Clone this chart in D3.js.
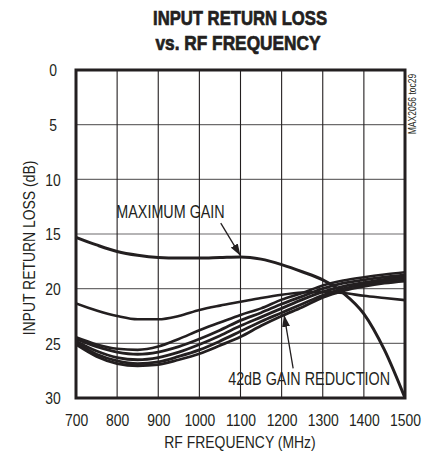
<!DOCTYPE html>
<html>
<head>
<meta charset="utf-8">
<script src="https://cdn.jsdelivr.net/npm/d3@7"></script>
<style>
  html, body { margin: 0; padding: 0; background: #fff; }
  svg { display: block; }
  text { fill: #231f20; }
</style>
</head>
<body>
<svg id="chart" width="427" height="455"></svg>
<script>
// ---------- data ----------
const freqMHz = [700, 750, 800, 850, 900, 950, 1000, 1050, 1100, 1150, 1200, 1250, 1300, 1350, 1400, 1450, 1500];
const maxGain   = [15.3, 16.0, 16.6, 16.95, 17.15, 17.2, 17.2, 17.15, 17.1, 17.3, 17.8, 18.45, 19.2, 20.4, 22.3, 25.6, 30.0];
const reductionB = [21.35, 22.0, 22.5, 22.8, 22.8, 22.5, 21.95, 21.55, 21.2, 20.85, 20.55, 20.35, 20.3, 20.4, 20.65, 20.85, 21.05];
const reductionC = [24.45, 25.1, 25.5, 25.6, 25.3, 24.6, 23.8, 23.1, 22.4, 21.8, 21.0, 20.4, 19.7, 19.25, 18.95, 18.7, 18.5];
const reductionD = [24.6, 25.3, 25.8, 26.0, 25.8, 25.3, 24.6, 23.8, 22.9, 22.2, 21.4, 20.7, 20.0, 19.5, 19.2, 18.95, 18.75];
const reductionE = [24.8, 25.7, 26.3, 26.5, 26.3, 25.8, 25.1, 24.3, 23.4, 22.6, 21.8, 21.0, 20.3, 19.8, 19.45, 19.15, 18.95];
const reductionF = [24.95, 26.0, 26.6, 26.85, 26.7, 26.2, 25.6, 24.8, 23.9, 23.0, 22.2, 21.4, 20.6, 20.0, 19.6, 19.3, 19.1];
const reductionG = [25.1, 26.2, 26.85, 27.05, 26.95, 26.5, 25.95, 25.2, 24.4, 23.4, 22.5, 21.7, 20.8, 20.2, 19.8, 19.5, 19.3];
const xTicks = [700, 800, 900, 1000, 1100, 1200, 1300, 1400, 1500];
const yTicks = [0, 5, 10, 15, 20, 25, 30];
const titleLines = ["INPUT RETURN LOSS", "vs. RF FREQUENCY"];
const xLabel = "RF FREQUENCY (MHz)";
const yLabel = "INPUT RETURN LOSS (dB)";
const tocLabel = "MAX2056 toc29";
// annotations in data coordinates: [text, textFreq, textDb, tailFreq, tailDb, tipFreq, tipDb]
const noteMax = ["MAXIMUM GAIN", 798, 13.55, 1052, 14.0, 1100, 17.0];
const noteRed = ["42dB GAIN REDUCTION", 1070, 28.8, 1228, 27.3, 1206, 22.4];

// ---------- layout ----------
const svg = d3.select("#chart");
const ink = "#231f20";
const x = d3.scaleLinear().domain([700, 1500]).range([76, 405]);
const y = d3.scaleLinear().domain([0, 30]).range([70, 398]);
const sans = "'Liberation Sans', Arial, sans-serif";
const SX = 0.82; // horizontal condensing

function ntext(px, py, str, size, anchor, rot) {
  return svg.append("text")
    .attr("transform", `translate(${px},${py})${rot ? " rotate(" + rot + ")" : ""} scale(${SX},1)`)
    .attr("text-anchor", anchor || "start")
    .attr("font-family", sans).attr("font-size", size).text(str);
}

// title
svg.append("text").attr("x", 240).attr("y", 25).attr("text-anchor", "middle")
  .attr("font-family", sans).attr("font-weight", "bold").attr("font-size", 20.5)
  .attr("textLength", 174).attr("lengthAdjust", "spacingAndGlyphs")
  .attr("stroke", ink).attr("stroke-width", 0.7)
  .text(titleLines[0]);
svg.append("text").attr("x", 238).attr("y", 50).attr("text-anchor", "middle")
  .attr("font-family", sans).attr("font-weight", "bold").attr("font-size", 20.5)
  .attr("textLength", 165).attr("lengthAdjust", "spacingAndGlyphs")
  .attr("stroke", ink).attr("stroke-width", 0.7)
  .text(titleLines[1]);

// grid
const g = svg.append("g");
g.selectAll("line.h").data(yTicks.slice(1, -1)).enter().append("line")
  .attr("x1", x(700)).attr("x2", x(1500)).attr("y1", d => y(d)).attr("y2", d => y(d))
  .attr("stroke", "#6d6b6c").attr("stroke-width", 1.1);
g.selectAll("line.v").data(xTicks.slice(1, -1)).enter().append("line")
  .attr("y1", y(0)).attr("y2", y(30)).attr("x1", d => x(d)).attr("x2", d => x(d))
  .attr("stroke", ink).attr("stroke-width", 1.1);

// axes (labels only)
const xAxis = d3.axisBottom(x).tickValues(xTicks).tickFormat(d3.format("d")).tickSize(0).tickPadding(0);
const xa = svg.append("g").attr("transform", `translate(0,${y(30)})`).call(xAxis);
xa.select(".domain").remove();
xa.selectAll("text").attr("font-family", sans).attr("font-size", 17).attr("fill", ink)
  .attr("dy", null).attr("y", null).attr("transform", `translate(0,28) scale(${SX},1)`);

const yAxis = d3.axisLeft(y).tickValues(yTicks).tickFormat(d3.format("d")).tickSize(0).tickPadding(0);
const ya = svg.append("g").attr("transform", `translate(53,0)`).call(yAxis);
ya.select(".domain").remove();
ya.selectAll("text").attr("font-family", sans).attr("font-size", 17).attr("fill", ink)
  .attr("text-anchor", "middle").attr("x", 0).attr("dy", "0.35em")
  .attr("transform", `scale(${SX},1)`);

// axis titles
ntext(240, 448, xLabel, 17, "middle");
ntext(35, 248, yLabel, 17, "middle", -90);
svg.append("text").attr("transform", "translate(416,104) rotate(-90) scale(0.85,1)").attr("text-anchor", "middle")
  .attr("font-family", sans).attr("font-size", 10).text(tocLabel);

// curves
const line = d3.line().x((d, i) => x(freqMHz[i])).y(d => y(d)).curve(d3.curveMonotoneX);
svg.append("clipPath").attr("id", "clip").append("rect")
  .attr("x", x(700)).attr("y", y(0)).attr("width", x(1500) - x(700)).attr("height", y(30) - y(0));
const curves = [
  [reductionG, 2.8], [reductionF, 2.8], [reductionE, 2.8], [reductionD, 2.8],
  [reductionC, 2.6], [reductionB, 2.6], [maxGain, 3.0]
];
const cg = svg.append("g").attr("clip-path", "url(#clip)");
curves.forEach(([vals, w]) => {
  cg.append("path").attr("d", line(vals)).attr("fill", "none")
    .attr("stroke", ink).attr("stroke-width", w).attr("stroke-linejoin", "round");
});

// frame
svg.append("rect").attr("x", x(700)).attr("y", y(0))
  .attr("width", x(1500) - x(700)).attr("height", y(30) - y(0))
  .attr("fill", "none").attr("stroke", ink).attr("stroke-width", 3);

// annotations
const defs = svg.append("defs");
defs.append("marker").attr("id", "arrow").attr("viewBox", "0 0 12 8")
  .attr("refX", 12).attr("refY", 4).attr("markerWidth", 12).attr("markerHeight", 8)
  .attr("markerUnits", "userSpaceOnUse").attr("orient", "auto")
  .append("path").attr("d", "M0,0 L12,4 L0,8 Z").attr("fill", ink);

[noteMax, noteRed].forEach(n => {
  ntext(x(n[1]), y(n[2]), n[0], 17.5, "start");
  svg.append("line").attr("x1", x(n[3])).attr("y1", y(n[4])).attr("x2", x(n[5])).attr("y2", y(n[6]))
    .attr("stroke", ink).attr("stroke-width", 1.3).attr("marker-end", "url(#arrow)");
});
</script>
</body>
</html>
